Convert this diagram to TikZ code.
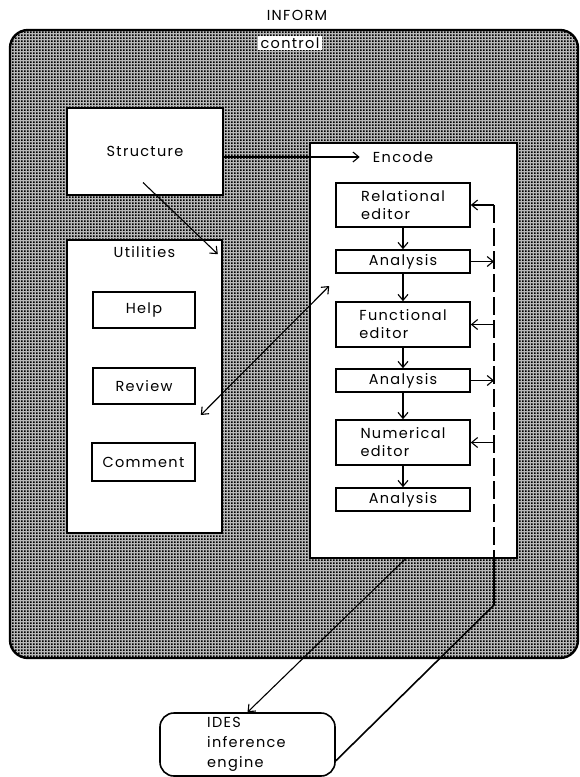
\documentclass[tikz,border=0pt]{standalone}
\usepackage{fontspec}
\setmainfont{Poppins}[LetterSpace=9]
\usetikzlibrary{arrows.meta,patterns.meta,calc}
\pgfdeclarepattern{
  name=halftone,
  type=uncolored,
  bottom left={\pgfpoint{0pt}{0pt}},
  top right={\pgfpoint{3pt}{3pt}},
  tile size={\pgfpoint{3pt}{3pt}},
  code={\pgfpathrectangle{\pgfpoint{0pt}{0pt}}{\pgfpoint{2pt}{2pt}}\pgfusepath{fill}}
}
\begin{document}
\begin{tikzpicture}[x=1pt,y=-1pt,
  every node/.style={font=\fontsize{14.5}{18}\selectfont},
  box/.style={draw, line width=1.6pt, fill=white, inner sep=0pt},
  ebox/.style={box, minimum width=134pt},
  lbl/.style={inner sep=1pt},
  arr/.style={-{Straight Barb[length=6pt,width=10pt]}, line width=1.1pt},
  darr/.style={{Straight Barb[length=6pt,width=10pt]}-{Straight Barb[length=6pt,width=10pt]}, line width=1.1pt},
  bigbox/.style={line width=2.4pt, rounded corners=18pt, preaction={fill=black!28}, pattern=halftone, pattern color=black},
]
\useasboundingbox (0,0) rectangle (580,777);
\fill[white] (0,0) rectangle (580,777);

% outer INFORM region
\draw[bigbox] (10,30) rectangle (578,658);
\node[lbl] (inform) at (297,15) {INFORM};
\node[fill=white, inner xsep=3pt, inner ysep=2pt] (control) at (290,43) {control};

% left column
\node[box, minimum width=156pt, minimum height=87pt] (struct) at (145,151.5) {Structure};
\node[box, minimum width=155pt, minimum height=293pt] (util) at (144.5,386.5) {};
\node[lbl, anchor=north] (utillbl) at ($(util.north)+(0,6)$) {Utilities};
\node[box, minimum width=102pt, minimum height=36pt] (help) at (144,310) {Help};
\node[box, minimum width=102pt, minimum height=36pt] (review) at (144,386) {Review};
\node[box, minimum width=103pt, minimum height=38pt] (comment) at (143.5,462) {Comment};

% encode column
\node[box, minimum width=207pt, minimum height=415pt] (enc) at (413.5,350.5) {};
\node[lbl] (enclbl) at (403,157) {Encode};
\node[ebox, minimum height=44pt, align=left] (rel) at (403,205) {Relational\\editor};
\node[ebox, minimum height=23pt] (an1) at (403,261.5) {Analysis};
\node[ebox, minimum height=45pt, align=left] (fun) at (403,324.5) {Functional\\editor};
\node[ebox, minimum height=23pt] (an2) at (403,380.5) {Analysis};
\node[ebox, minimum height=45pt, align=left] (num) at (403,442.5) {Numerical\\editor};
\node[ebox, minimum height=23pt] (an3) at (403,499.5) {Analysis};

% IDES
\node[draw, line width=1.6pt, rounded corners=14pt, fill=white, minimum width=175pt, minimum height=63pt] (ides) at (247.5,744.5) {};
\node[align=left, anchor=north west, inner sep=0pt, font=\fontsize{14.5}{20}\selectfont] (idestext) at (207,717) {IDES\\inference\\engine};

% connectors
\draw[arr, shorten >=12pt] (struct.east |- enclbl) -- (enclbl.west);
\draw[arr] ($(struct.center)+(-2,31)$) -- ($(util.north east)+(-5,15)$);
\draw[darr] ($(util.east)+(-22,28.5)$) -- ($(enc.west)+(20,-64.5)$);

\draw[arr] (rel) -- (an1);
\draw[arr] (an1) -- (fun);
\draw[arr] (fun) -- (an2);
\draw[arr] (an2) -- (num);
\draw[arr] (num) -- (an3);

\coordinate (bus) at (494,605);
\draw[line width=1.3pt, dash pattern=on 18pt off 5pt] (rel.east -| bus) -- (enc.south -| bus);
\draw[line width=1.6pt] (enc.south -| bus) -- (bus) -- ($(ides.south east)+(0,-16)$);
\draw[arr] (rel.east -| bus) -- (rel.east);
\draw[arr] (an1.east) -- (an1.east -| bus);
\draw[arr] (fun.east -| bus) -- (fun.east);
\draw[arr] (an2.east) -- (an2.east -| bus);
\draw[arr] (num.east -| bus) -- (num.east);

\draw[arr] ($(enc.south)+(-8,0)$) -- (ides.north);
\end{tikzpicture}
\end{document}
